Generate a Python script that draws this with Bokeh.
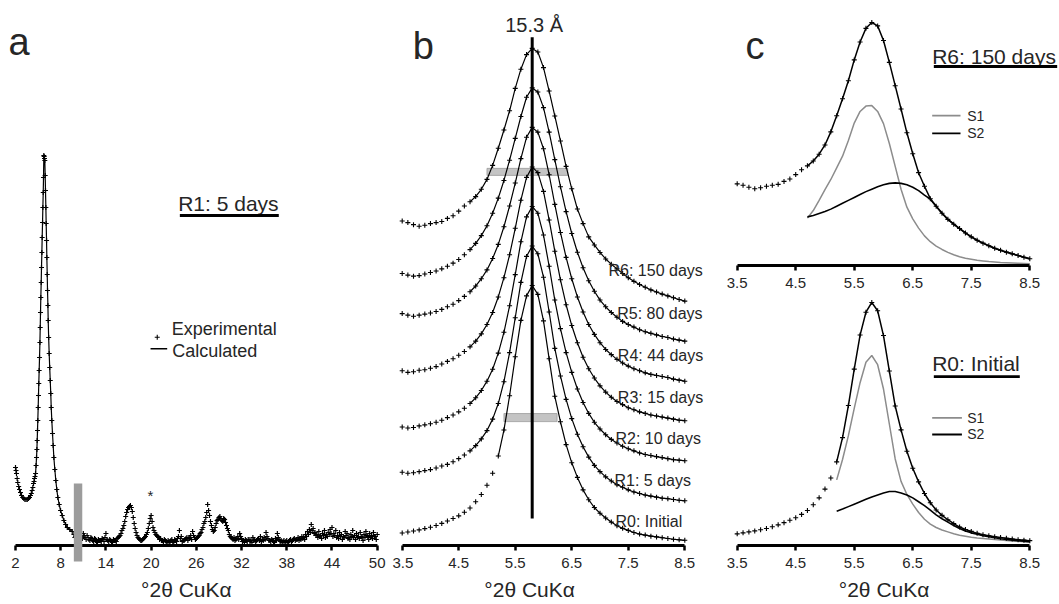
from bokeh.plotting import figure
from bokeh.models import Range1d, FixedTicker, Label, BoxAnnotation
from bokeh.layouts import row, column
from bokeh.embed import file_html
from bokeh.resources import INLINE

FONT = "Liberation Sans"
TXT = "#262626"

# ---------------- data: panel a (R1: 5 days, full scan) ----------------
a_tt_peak = [2.0, 2.07, 2.13, 2.22, 2.3, 2.42, 2.53, 2.66, 2.8, 2.95,
             3.1, 3.25, 3.4, 3.56, 3.72, 3.86, 3.99, 4.1, 4.21, 4.3,
             4.39, 4.46, 4.52, 4.59, 4.66, 4.73, 4.79, 4.84, 4.88, 4.92,
             4.96, 5.01, 5.05, 5.09, 5.14, 5.19, 5.24, 5.28, 5.32, 5.36,
             5.41, 5.45, 5.5, 5.54, 5.59, 5.63, 5.68, 5.72, 5.76, 5.8,
             5.85, 5.89, 5.94, 5.98, 6.03, 6.07, 6.12, 6.16, 6.21, 6.25,
             6.3, 6.34, 6.4, 6.47, 6.54, 6.61, 6.68, 6.74, 6.82, 6.91,
             7.0, 7.09, 7.22, 7.35, 7.48, 7.62, 7.8, 7.98, 8.2, 8.42,
             8.65, 8.87, 9.2, 9.53]
a_counts_peak = [78, 75, 72, 67, 63, 59, 56, 53, 50, 48,
                 47, 46, 46, 46, 47, 48, 50, 52, 55, 58,
                 62, 64, 67, 69, 72, 80, 88, 96, 105, 115,
                 125, 138, 150, 162, 175, 188, 203, 218, 233, 248,
                 263, 278, 293, 308, 323, 338, 353, 368, 390, 389,
                 387, 385, 370, 355, 338, 322, 305, 288, 271, 255,
                 240, 225, 208, 192, 178, 165, 152, 138, 125, 112,
                 100, 88, 76, 65, 56, 48, 41, 35, 30, 25,
                 21, 18, 16, 14]
a_scan_step = 0.25
a_scan1_start = 9.75
a_counts_scan1 = [11, 9, 8, 7, 9, 12, 8, 10, 6, 8,
                  5, 7, 4, 6, 5, 7, 4, 12, 5, 6,
                  4, 6, 5, 7, 9, 12, 17, 24, 33, 38,
                  40, 34, 22, 13, 8, 6, 5, 7, 9, 13,
                  22, 30, 18, 13, 10, 8, 7, 5, 6, 4,
                  5, 3, 6, 4, 5, 7, 15, 9, 5, 6,
                  8, 7, 10, 14, 8, 7, 9, 12, 16, 22,
                  28, 41, 30, 20, 14, 18, 25, 28, 27, 24,
                  26, 20, 15, 9, 7, 8, 6, 9, 12, 7,
                  5, 6, 4, 6, 5, 8, 6, 5, 7, 9,
                  6, 8, 13, 7, 5, 6, 4, 7, 12, 6,
                  5, 4, 3, 5, 4, 6, 5, 7, 6, 8,
                  7, 9, 8, 11, 14, 16, 21, 17, 13, 11,
                  14, 10, 12, 15, 11, 13, 16, 18, 12, 15,
                  10, 13, 11, 9, 14, 12, 8, 11, 15, 10,
                  12, 9, 13, 8, 11, 14, 9, 12, 10, 13,
                  9, 11]
a_scan2_start = 9.875
a_counts_scan2 = [8, 6, 9, 5, 7, 10, 6, 8, 5, 7,
                  4, 6, 3, 5, 4, 6, 8, 6, 4, 5,
                  3, 5, 4, 8, 10, 15, 20, 29, 36, 39,
                  38, 28, 17, 10, 7, 5, 6, 8, 11, 17,
                  27, 24, 15, 11, 9, 6, 5, 4, 5, 3,
                  4, 5, 3, 6, 4, 9, 7, 4, 5, 7,
                  5, 8, 6, 10, 6, 8, 10, 13, 18, 24,
                  33, 35, 24, 16, 15, 22, 26, 29, 25, 27,
                  23, 17, 11, 8, 6, 5, 7, 6, 9, 4,
                  3, 5, 6, 4, 3, 5, 4, 6, 5, 4,
                  5, 6, 9, 5, 4, 5, 3, 5, 8, 4,
                  3, 5, 4, 3, 5, 4, 6, 5, 6, 5,
                  6, 7, 6, 9, 11, 13, 15, 12, 10, 8,
                  9, 7, 10, 8, 9, 11, 12, 9, 10, 8,
                  7, 9, 6, 8, 10, 7, 6, 9, 8, 6,
                  8, 7, 9, 5, 8, 10, 6, 8, 7, 9,
                  6]
a_calc_from = 4.66
a_calc_to = 9.53
a_ticks = [2, 8, 14, 20, 26, 32, 38, 44, 50]
a_excluded = [9.74, 10.86]      # grey band (excluded region)
a_star_tt = 19.92               # '*' marked reflection

# ---------------- data: panels b & c (normalised intensity, peak = 100) ----------------
tt = [3.5, 3.6, 3.7, 3.8, 3.9, 4.0, 4.1, 4.2, 4.3, 4.4,
      4.5, 4.6, 4.7, 4.8, 4.9, 5.0, 5.1, 5.2, 5.3, 5.4,
      5.5, 5.6, 5.7, 5.8, 5.9, 6.0, 6.1, 6.2, 6.3, 6.4,
      6.5, 6.6, 6.7, 6.8, 6.9, 7.0, 7.1, 7.2, 7.3, 7.4,
      7.5, 7.6, 7.7, 7.8, 7.9, 8.0, 8.1, 8.2, 8.3, 8.4, 8.5]
R0 = [4.8, 5.2, 5.6, 6.0, 6.5, 7.0, 7.7, 8.5, 9.4, 10.4,
      11.4, 12.8, 14.4, 16.8, 19.6, 23.2, 27.8, 34.4, 44.4, 57.6,
      72.6, 86.6, 96.0, 100, 96.6, 86.4, 71.8, 57.4, 47.6, 38.8,
      31.8, 26.2, 21.4, 17.6, 14.6, 12.4, 10.6, 9.0, 7.6, 6.6,
      5.8, 5.0, 4.4, 4.0, 3.6, 3.3, 3.0, 2.7, 2.4, 2.2, 2.0]
R1 = [13.0, 12.6, 12.8, 13.2, 13.6, 14.0, 14.6, 15.4, 16.0, 17.0,
      18.2, 19.6, 21.2, 23.2, 25.8, 29.0, 33.4, 39.4, 47.8, 59.0,
      72.4, 86.0, 96.0, 100, 97.0, 88.0, 74.6, 60.6, 50.0, 41.0,
      33.6, 27.6, 22.8, 18.8, 15.6, 13.2, 11.2, 9.6, 8.2, 7.2,
      6.2, 5.4, 4.8, 4.2, 3.8, 3.4, 3.0, 2.8, 2.5, 2.2, 2.0]
R2 = [15.2, 14.8, 15.0, 15.6, 16.0, 16.4, 17.0, 17.8, 18.8, 19.8,
      21.0, 22.4, 24.2, 26.4, 29.2, 32.8, 37.4, 43.6, 51.6, 61.8,
      73.8, 86.4, 96.0, 100, 97.4, 89.0, 77.0, 64.0, 53.0, 43.8,
      36.2, 29.8, 24.6, 20.4, 17.0, 14.4, 12.2, 10.4, 9.0, 7.8,
      6.8, 6.0, 5.2, 4.6, 4.2, 3.8, 3.4, 3.0, 2.6, 2.4, 2.2]
R3 = [21.6, 21.0, 21.2, 21.8, 22.0, 22.6, 23.2, 24.2, 25.2, 26.2,
      27.6, 29.0, 30.8, 33.0, 35.8, 39.4, 44.0, 50.0, 57.4, 66.2,
      76.4, 87.2, 96.0, 100, 97.8, 90.6, 79.6, 67.6, 56.6, 47.0,
      39.0, 32.4, 26.8, 22.4, 18.8, 15.8, 13.4, 11.4, 9.8, 8.6,
      7.4, 6.6, 5.8, 5.2, 4.6, 4.2, 3.8, 3.4, 3.0, 2.6, 2.4]
R4 = [28.4, 27.8, 27.4, 27.8, 28.2, 28.6, 29.2, 30.0, 31.0, 32.0,
      33.4, 35.0, 36.8, 39.0, 41.8, 45.2, 49.6, 55.0, 61.8, 69.8,
      78.6, 88.0, 96.2, 100, 98.2, 91.8, 81.8, 70.4, 59.6, 50.0,
      41.8, 34.8, 29.0, 24.2, 20.4, 17.2, 14.6, 12.6, 10.8, 9.4,
      8.2, 7.2, 6.4, 5.6, 5.0, 4.6, 4.2, 3.8, 3.2, 2.8, 2.4]
R5 = [28.6, 28.0, 27.6, 27.8, 28.4, 29.0, 29.6, 30.4, 31.4, 32.6,
      34.0, 35.8, 37.8, 40.2, 43.2, 47.0, 51.8, 57.6, 64.4, 72.2,
      80.6, 89.0, 96.4, 100, 98.4, 92.4, 83.0, 72.4, 62.0, 52.4,
      44.0, 36.8, 30.8, 25.8, 21.8, 18.4, 15.8, 13.6, 11.8, 10.2,
      9.0, 8.0, 7.0, 6.2, 5.6, 5.0, 4.4, 4.0, 3.4, 3.0, 2.6]
R6 = [33.6, 33.0, 32.2, 31.6, 32.0, 32.6, 33.0, 33.4, 34.6, 35.6,
      37.4, 39.4, 41.0, 43.0, 45.8, 49.6, 55.0, 61.6, 68.6, 76.0,
      84.6, 92.0, 97.6, 100, 98.6, 92.6, 83.6, 74.0, 64.4, 54.6,
      46.0, 38.2, 32.6, 27.5, 24.4, 21.5, 19.0, 17.0, 15.2, 13.4,
      11.8, 10.4, 9.2, 8.1, 7.1, 6.3, 5.5, 4.8, 4.1, 3.4, 2.8]
samples = ["R0: Initial", "R1: 5 days", "R2: 10 days", "R3: 15 days",
           "R4: 44 days", "R5: 80 days", "R6: 150 days"]
calc_start = [5.2, 4.7, 4.7, 4.7, 4.7, 4.7, 4.7]
ref_peak_tt = 5.8
ref_peak_label = "15.3 Å"
fwhm_left = [5.3, 5.0]      # R0, R6
fwhm_right = [6.24, 6.43]
fwhm_level = [49.2, 143.7]

# decomposition (panel c) – S1, S2 components
R6_S1 = [19.5, 22.6, 26.8, 31.2, 35.4, 40.2, 45.0, 51.4, 58.6, 63.4,
         65.6, 65.8, 63.4, 58.4, 50.2, 40.8, 31.4, 24.0, 19.2, 15.4,
         12.2, 9.8, 8.0, 6.6, 5.4, 4.4, 3.6, 3.0, 2.6, 2.2,
         1.9, 1.6, 1.4, 1.2, 1.1, 1.0, 0.9, 0.8, 0.7]
R6_S2 = [20.0, 20.6, 21.4, 22.2, 23.2, 24.4, 25.6, 26.8, 28.0, 29.2,
         30.4, 31.4, 32.4, 33.2, 33.8, 34.0, 33.8, 33.2, 32.2, 30.8,
         29.0, 27.3, 24.4, 21.5, 19.0, 17.0, 15.2, 13.4, 11.8, 10.4,
         9.2, 8.1, 7.1, 6.3, 5.5, 4.8, 4.1, 3.4, 2.8]
R0_S1 = [27.0, 35.4, 45.2, 56.4, 67.0, 75.4, 78.2, 74.4, 64.4, 50.0,
         35.6, 26.4, 21.0, 17.0, 13.6, 10.8, 8.8, 7.4, 6.4, 5.6,
         4.8, 4.2, 3.8, 3.4, 3.1, 2.9, 2.7, 2.5, 2.3, 2.1,
         1.9, 1.7, 1.5, 1.3]
R0_S2 = [14.1, 15.0, 16.0, 17.0, 18.0, 19.0, 20.0, 20.8, 21.6, 22.2,
         22.2, 21.6, 20.8, 19.6, 18.0, 16.4, 14.6, 12.6, 11.0, 9.6,
         8.2, 7.0, 6.0, 5.2, 4.6, 4.0, 3.6, 3.2, 2.8, 2.5,
         2.2, 2.0, 1.8, 1.6]
bc_ticks = [3.5, 4.5, 5.5, 6.5, 7.5, 8.5]

XLABEL = "°2θ CuKα"
S1_COLOR = "#8c8c8c"


def make_fig(width, height, xr, yr, ticks, bounds):
    p = figure(width=width, height=height, x_range=Range1d(*xr), y_range=Range1d(*yr),
               output_backend="svg", toolbar_location=None, y_axis_location=None,
               min_border_left=0, min_border_right=0, min_border_bottom=0,
               min_border_top=0)
    p.title.visible = False
    p.outline_line_color = None
    p.grid.visible = False
    p.background_fill_color = "white"
    p.border_fill_color = "white"
    ax = p.xaxis[0]
    ax.fixed_location = 0
    ax.bounds = bounds
    ax.ticker = FixedTicker(ticks=ticks)
    ax.axis_line_width = 3
    ax.axis_line_color = "black"
    ax.major_tick_line_width = 2.5
    ax.major_tick_line_color = "black"
    ax.major_tick_out = 5
    ax.major_tick_in = 0
    ax.minor_tick_line_color = None
    ax.major_label_text_font = FONT
    ax.major_label_text_font_size = "15px"
    ax.major_label_text_color = TXT
    ax.major_label_standoff = 7
    return p


def label(p, x, y, text, size, align="left"):
    p.add_layout(Label(x=x, y=y, text=text, text_font=FONT, text_font_size=size,
                       text_align=align, text_baseline="middle", text_color=TXT))


def underline(p, x0, x1, y0, y1):
    p.add_layout(BoxAnnotation(left=x0, right=x1, bottom=y0, top=y1,
                               fill_color="black", fill_alpha=1.0, line_color=None,
                               level="overlay"))


# ================= panel a  (canvas x 0..392, 1 y-unit = 1 px) =================
pa = make_fig(392, 600, (0.0093, 52.03), (-55, 545), a_ticks, (2, 50))
a_tt_scan1 = [a_scan1_start + i * a_scan_step for i in range(len(a_counts_scan1))]
a_tt_scan2 = [a_scan2_start + i * a_scan_step for i in range(len(a_counts_scan2))]
calc_x = [x for x in a_tt_peak if a_calc_from <= x <= a_calc_to]
calc_y = [y for x, y in zip(a_tt_peak, a_counts_peak) if a_calc_from <= x <= a_calc_to]
pa.line(calc_x, calc_y, line_color="black", line_width=1.2)
for xs, ys in ((a_tt_peak, a_counts_peak), (a_tt_scan1, a_counts_scan1), (a_tt_scan2, a_counts_scan2)):
    pa.scatter(xs, ys, marker="cross", size=5, line_color="black", line_width=1.2)
pa.add_layout(BoxAnnotation(left=a_excluded[0], right=a_excluded[1], bottom=-16, top=62,
                            fill_color="#9c9c9c", fill_alpha=1.0, line_color=None,
                            level="overlay"))
label(pa, a_star_tt, 50, "*", "15px", align="center")
label(pa, 1.07, 503.2, "a", "38px")
label(pa, 24.68, -44.3, XLABEL, "21px", align="center")
label(pa, 23.59, 341.7, "R1: 5 days", "21px")
underline(pa, 23.81, 36.94, 328.5, 331.5)
# legend
pa.scatter([20.81], [208.3], marker="cross", size=5, line_color="black", line_width=1.1)
pa.line([19.92, 22.13], [196.7, 196.7], line_color="black", line_width=1.5)
label(pa, 22.73, 216.7, "Experimental", "18px")
label(pa, 22.81, 195.0, "Calculated", "18px")

# ================= panel b  (canvas x 392..708, 1 unit = 2.6 px) =================
PXB = 2.6
pb = make_fig(316, 600, (3.3284, 8.9193), (-55 / PXB, 545 / PXB), bc_ticks, (3.5, 8.5))
pb.hbar(y=fwhm_level, left=fwhm_left, right=fwhm_right, height=[3.1, 2.7],
        fill_color="#c4c4c4", line_color="#9a9a9a", line_width=0.8)
curves = [R0, R1, R2, R3, R4, R5, R6]
offsets = [0, 15.2, 30.4, 45.6, 60.8, 76.0, 91.2]
label_x = [7.274, 7.256, 7.274, 7.315, 7.315, 7.304, 7.15]
label_y = [9.15, 25.1, 41.2, 57.0, 73.1, 89.4, 105.6]
for vals, off, start, name, lx, ly in zip(curves, offsets, calc_start, samples, label_x, label_y):
    y = [v + off for v in vals]
    xs = [x for x in tt if x >= start - 1e-9]
    ys = [yy for x, yy in zip(tt, y) if x >= start - 1e-9]
    pb.line(xs, ys, line_color="black", line_width=1.2)
    pb.scatter(tt, y, marker="cross", size=5, line_color="black", line_width=1.1)
    label(pb, lx, ly, name, "16px")
pb.line([ref_peak_tt, ref_peak_tt], [10.4, 195.5], line_color="black", line_width=3)
label(pb, 5.322, 200.2, ref_peak_label, "20px")
label(pb, 3.687, 192.3, "b", "38px")
label(pb, 5.755, -17.0, XLABEL, "21px", align="center")

# ================= panel c top: R6 (canvas x 708..1059, y 0..296) =================
PXC = 2.43
CX = (3.0096, 9.0076)
pc1 = make_fig(351, 296, CX, (-31 / PXC, 265 / PXC), bc_ticks, (3.5, 8.5))
tt_s6 = tt[12:]
pc1.line(tt_s6, R6_S1, line_color=S1_COLOR, line_width=1.5)
pc1.line(tt_s6, R6_S2, line_color="black", line_width=1.6)
pc1.line(tt_s6, R6[12:], line_color="black", line_width=1.5)
pc1.scatter(tt, R6, marker="cross", size=5, line_color="black", line_width=1.1)
label(pc1, 3.642, 90.5, "c", "38px")
label(pc1, 6.832, 86.1, "R6: 150 days", "21px")
underline(pc1, 6.86, 8.968, 81.3, 82.5)
pc1.line([6.832, 7.316], [61.7, 61.7], line_color=S1_COLOR, line_width=1.8)
pc1.line([6.832, 7.316], [54.4, 54.4], line_color="black", line_width=1.8)
label(pc1, 7.43, 61.7, "S1", "14px")
label(pc1, 7.43, 54.4, "S2", "14px")

# ================= panel c bottom: R0 (canvas y 296..600) =================
pc2 = make_fig(351, 304, CX, (-55 / PXC, 249 / PXC), bc_ticks, (3.5, 8.5))
tt_s0 = tt[17:]
pc2.line(tt_s0, R0_S1, line_color=S1_COLOR, line_width=1.5)
pc2.line(tt_s0, R0_S2, line_color="black", line_width=1.6)
pc2.line(tt_s0, R0[17:], line_color="black", line_width=1.5)
pc2.scatter(tt, R0, marker="cross", size=5, line_color="black", line_width=1.1)
label(pc2, 6.832, 75.1, "R0: Initial", "21px")
underline(pc2, 6.86, 8.329, 68.9, 70.1)
pc2.line([6.832, 7.34], [52.55, 52.55], line_color=S1_COLOR, line_width=1.8)
pc2.line([6.832, 7.34], [45.68, 45.68], line_color="black", line_width=1.8)
label(pc2, 7.43, 52.55, "S1", "14px")
label(pc2, 7.43, 45.68, "S2", "14px")
label(pc2, 6.01, -18.1, XLABEL, "21px", align="center")

layout = row(pa, pb, column(pc1, pc2))
open("out.html", "w").write(file_html(layout, INLINE))
